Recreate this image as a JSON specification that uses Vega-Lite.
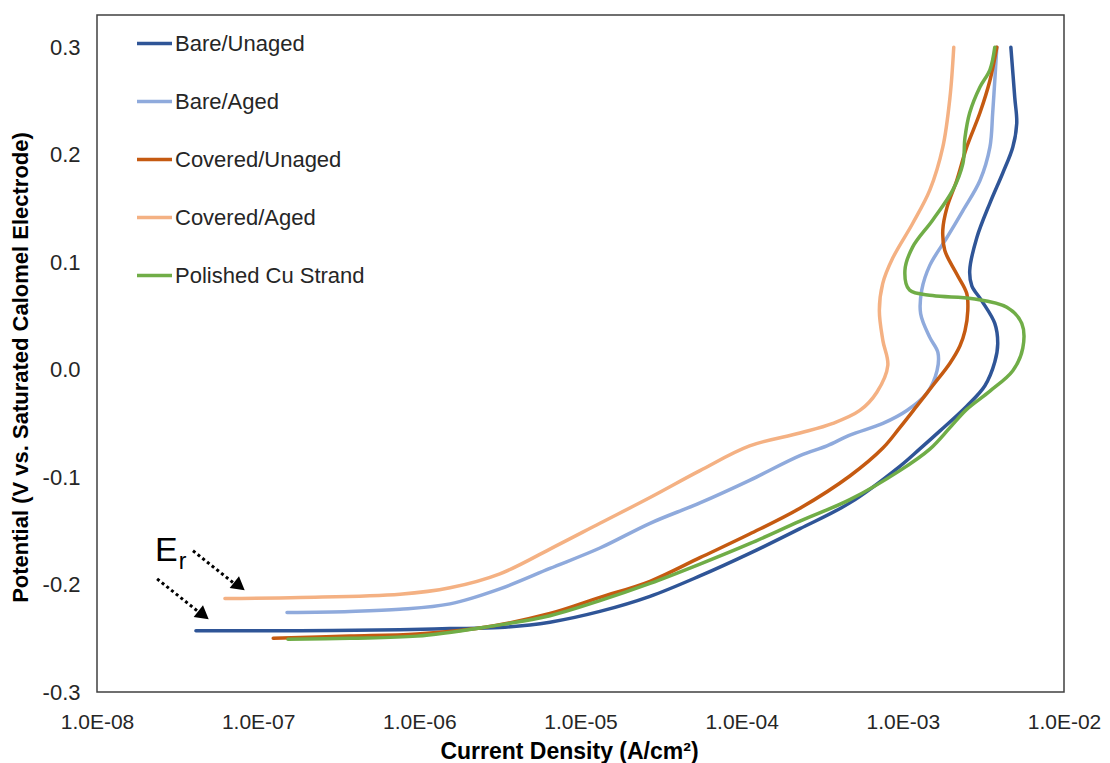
{
  "$schema": "https://vega.github.io/schema/vega-lite/v6.json",
  "width": 967,
  "height": 677,
  "autosize": {"type": "none"},
  "padding": {"left": 97, "top": 15, "right": 46, "bottom": 71},
  "background": "white",
  "config": {
    "view": {"stroke": "#404040", "strokeWidth": 1.5},
    "font": "Liberation Sans"
  },
  "datasets": {
    "curves": [
      {"series": "Bare/Unaged", "order": 1, "current": 4.11e-8, "potential": -0.243},
      {"series": "Bare/Unaged", "order": 2, "current": 1.82e-7, "potential": -0.243},
      {"series": "Bare/Unaged", "order": 3, "current": 7.59e-7, "potential": -0.242},
      {"series": "Bare/Unaged", "order": 4, "current": 1.55e-6, "potential": -0.241},
      {"series": "Bare/Unaged", "order": 5, "current": 3.16e-6, "potential": -0.240},
      {"series": "Bare/Unaged", "order": 6, "current": 6.46e-6, "potential": -0.235},
      {"series": "Bare/Unaged", "order": 7, "current": 1.32e-5, "potential": -0.225},
      {"series": "Bare/Unaged", "order": 8, "current": 2.70e-5, "potential": -0.211},
      {"series": "Bare/Unaged", "order": 9, "current": 5.51e-5, "potential": -0.192},
      {"series": "Bare/Unaged", "order": 10, "current": 1.12e-4, "potential": -0.171},
      {"series": "Bare/Unaged", "order": 11, "current": 2.30e-4, "potential": -0.148},
      {"series": "Bare/Unaged", "order": 12, "current": 4.69e-4, "potential": -0.124},
      {"series": "Bare/Unaged", "order": 14, "current": 9.58e-4, "potential": -0.090},
      {"series": "Bare/Unaged", "order": 15, "current": 1.27e-3, "potential": -0.074},
      {"series": "Bare/Unaged", "order": 16, "current": 1.70e-3, "potential": -0.057},
      {"series": "Bare/Unaged", "order": 17, "current": 2.49e-3, "potential": -0.034},
      {"series": "Bare/Unaged", "order": 18, "current": 3.23e-3, "potential": -0.015},
      {"series": "Bare/Unaged", "order": 19, "current": 3.72e-3, "potential": 0.007},
      {"series": "Bare/Unaged", "order": 20, "current": 3.88e-3, "potential": 0.024},
      {"series": "Bare/Unaged", "order": 21, "current": 3.72e-3, "potential": 0.043},
      {"series": "Bare/Unaged", "order": 22, "current": 3.09e-3, "potential": 0.064},
      {"series": "Bare/Unaged", "order": 23, "current": 2.68e-3, "potential": 0.078},
      {"series": "Bare/Unaged", "order": 24, "current": 2.60e-3, "potential": 0.092},
      {"series": "Bare/Unaged", "order": 25, "current": 2.88e-3, "potential": 0.123},
      {"series": "Bare/Unaged", "order": 26, "current": 3.47e-3, "potential": 0.155},
      {"series": "Bare/Unaged", "order": 27, "current": 4.17e-3, "potential": 0.183},
      {"series": "Bare/Unaged", "order": 28, "current": 4.81e-3, "potential": 0.207},
      {"series": "Bare/Unaged", "order": 29, "current": 5.09e-3, "potential": 0.229},
      {"series": "Bare/Unaged", "order": 30, "current": 4.95e-3, "potential": 0.253},
      {"series": "Bare/Unaged", "order": 31, "current": 4.68e-3, "potential": 0.300},

      {"series": "Bare/Aged", "order": 1, "current": 1.51e-7, "potential": -0.226},
      {"series": "Bare/Aged", "order": 2, "current": 3.71e-7, "potential": -0.225},
      {"series": "Bare/Aged", "order": 3, "current": 7.59e-7, "potential": -0.223},
      {"series": "Bare/Aged", "order": 4, "current": 1.55e-6, "potential": -0.218},
      {"series": "Bare/Aged", "order": 5, "current": 3.16e-6, "potential": -0.204},
      {"series": "Bare/Aged", "order": 6, "current": 6.46e-6, "potential": -0.185},
      {"series": "Bare/Aged", "order": 7, "current": 1.32e-5, "potential": -0.166},
      {"series": "Bare/Aged", "order": 8, "current": 2.70e-5, "potential": -0.143},
      {"series": "Bare/Aged", "order": 9, "current": 5.51e-5, "potential": -0.124},
      {"series": "Bare/Aged", "order": 10, "current": 1.12e-4, "potential": -0.103},
      {"series": "Bare/Aged", "order": 11, "current": 2.30e-4, "potential": -0.080},
      {"series": "Bare/Aged", "order": 12, "current": 3.38e-4, "potential": -0.071},
      {"series": "Bare/Aged", "order": 13, "current": 4.69e-4, "potential": -0.061},
      {"series": "Bare/Aged", "order": 14, "current": 7.52e-4, "potential": -0.050},
      {"series": "Bare/Aged", "order": 15, "current": 1.06e-3, "potential": -0.038},
      {"series": "Bare/Aged", "order": 16, "current": 1.41e-3, "potential": -0.022},
      {"series": "Bare/Aged", "order": 17, "current": 1.63e-3, "potential": -0.001},
      {"series": "Bare/Aged", "order": 18, "current": 1.65e-3, "potential": 0.016},
      {"series": "Bare/Aged", "order": 19, "current": 1.47e-3, "potential": 0.030},
      {"series": "Bare/Aged", "order": 20, "current": 1.29e-3, "potential": 0.052},
      {"series": "Bare/Aged", "order": 21, "current": 1.31e-3, "potential": 0.074},
      {"series": "Bare/Aged", "order": 22, "current": 1.47e-3, "potential": 0.097},
      {"series": "Bare/Aged", "order": 23, "current": 1.88e-3, "potential": 0.123},
      {"series": "Bare/Aged", "order": 24, "current": 2.36e-3, "potential": 0.148},
      {"series": "Bare/Aged", "order": 25, "current": 3.01e-3, "potential": 0.176},
      {"series": "Bare/Aged", "order": 26, "current": 3.47e-3, "potential": 0.207},
      {"series": "Bare/Aged", "order": 27, "current": 3.61e-3, "potential": 0.239},
      {"series": "Bare/Aged", "order": 28, "current": 3.72e-3, "potential": 0.269},
      {"series": "Bare/Aged", "order": 29, "current": 3.83e-3, "potential": 0.300},

      {"series": "Covered/Unaged", "order": 1, "current": 1.24e-7, "potential": -0.250},
      {"series": "Covered/Unaged", "order": 2, "current": 3.71e-7, "potential": -0.248},
      {"series": "Covered/Unaged", "order": 3, "current": 9.66e-7, "potential": -0.246},
      {"series": "Covered/Unaged", "order": 4, "current": 2.48e-6, "potential": -0.240},
      {"series": "Covered/Unaged", "order": 5, "current": 6.46e-6, "potential": -0.227},
      {"series": "Covered/Unaged", "order": 6, "current": 1.32e-5, "potential": -0.212},
      {"series": "Covered/Unaged", "order": 7, "current": 2.70e-5, "potential": -0.197},
      {"series": "Covered/Unaged", "order": 8, "current": 5.51e-5, "potential": -0.175},
      {"series": "Covered/Unaged", "order": 9, "current": 1.12e-4, "potential": -0.153},
      {"series": "Covered/Unaged", "order": 10, "current": 2.30e-4, "potential": -0.129},
      {"series": "Covered/Unaged", "order": 11, "current": 4.69e-4, "potential": -0.099},
      {"series": "Covered/Unaged", "order": 12, "current": 7.52e-4, "potential": -0.073},
      {"series": "Covered/Unaged", "order": 13, "current": 9.58e-4, "potential": -0.054},
      {"series": "Covered/Unaged", "order": 14, "current": 1.22e-3, "potential": -0.034},
      {"series": "Covered/Unaged", "order": 15, "current": 1.53e-3, "potential": -0.015},
      {"series": "Covered/Unaged", "order": 16, "current": 1.96e-3, "potential": 0.006},
      {"series": "Covered/Unaged", "order": 17, "current": 2.26e-3, "potential": 0.022},
      {"series": "Covered/Unaged", "order": 18, "current": 2.43e-3, "potential": 0.036},
      {"series": "Covered/Unaged", "order": 19, "current": 2.53e-3, "potential": 0.055},
      {"series": "Covered/Unaged", "order": 20, "current": 2.49e-3, "potential": 0.071},
      {"series": "Covered/Unaged", "order": 21, "current": 2.16e-3, "potential": 0.089},
      {"series": "Covered/Unaged", "order": 22, "current": 1.82e-3, "potential": 0.111},
      {"series": "Covered/Unaged", "order": 23, "current": 1.77e-3, "potential": 0.130},
      {"series": "Covered/Unaged", "order": 24, "current": 1.88e-3, "potential": 0.151},
      {"series": "Covered/Unaged", "order": 25, "current": 2.16e-3, "potential": 0.176},
      {"series": "Covered/Unaged", "order": 26, "current": 2.49e-3, "potential": 0.207},
      {"series": "Covered/Unaged", "order": 27, "current": 3.01e-3, "potential": 0.239},
      {"series": "Covered/Unaged", "order": 28, "current": 3.47e-3, "potential": 0.269},
      {"series": "Covered/Unaged", "order": 29, "current": 3.83e-3, "potential": 0.300},

      {"series": "Covered/Aged", "order": 1, "current": 6.22e-8, "potential": -0.213},
      {"series": "Covered/Aged", "order": 2, "current": 1.82e-7, "potential": -0.212},
      {"series": "Covered/Aged", "order": 3, "current": 7.59e-7, "potential": -0.209},
      {"series": "Covered/Aged", "order": 4, "current": 1.55e-6, "potential": -0.203},
      {"series": "Covered/Aged", "order": 5, "current": 3.16e-6, "potential": -0.190},
      {"series": "Covered/Aged", "order": 6, "current": 6.46e-6, "potential": -0.167},
      {"series": "Covered/Aged", "order": 7, "current": 1.32e-5, "potential": -0.143},
      {"series": "Covered/Aged", "order": 8, "current": 2.70e-5, "potential": -0.119},
      {"series": "Covered/Aged", "order": 9, "current": 5.51e-5, "potential": -0.094},
      {"series": "Covered/Aged", "order": 10, "current": 1.12e-4, "potential": -0.071},
      {"series": "Covered/Aged", "order": 11, "current": 2.30e-4, "potential": -0.059},
      {"series": "Covered/Aged", "order": 12, "current": 3.68e-4, "potential": -0.050},
      {"series": "Covered/Aged", "order": 13, "current": 5.41e-4, "potential": -0.038},
      {"series": "Covered/Aged", "order": 14, "current": 6.90e-4, "potential": -0.021},
      {"series": "Covered/Aged", "order": 15, "current": 8.07e-4, "potential": 0.004},
      {"series": "Covered/Aged", "order": 16, "current": 7.52e-4, "potential": 0.027},
      {"series": "Covered/Aged", "order": 17, "current": 7.15e-4, "potential": 0.055},
      {"series": "Covered/Aged", "order": 18, "current": 7.50e-4, "potential": 0.080},
      {"series": "Covered/Aged", "order": 19, "current": 8.67e-4, "potential": 0.104},
      {"series": "Covered/Aged", "order": 20, "current": 1.15e-3, "potential": 0.136},
      {"series": "Covered/Aged", "order": 21, "current": 1.47e-3, "potential": 0.167},
      {"series": "Covered/Aged", "order": 22, "current": 1.77e-3, "potential": 0.207},
      {"series": "Covered/Aged", "order": 23, "current": 1.96e-3, "potential": 0.253},
      {"series": "Covered/Aged", "order": 24, "current": 2.07e-3, "potential": 0.300},

      {"series": "Polished Cu Strand", "order": 1, "current": 1.53e-7, "potential": -0.251},
      {"series": "Polished Cu Strand", "order": 2, "current": 3.71e-7, "potential": -0.250},
      {"series": "Polished Cu Strand", "order": 3, "current": 9.66e-7, "potential": -0.248},
      {"series": "Polished Cu Strand", "order": 4, "current": 2.48e-6, "potential": -0.240},
      {"series": "Polished Cu Strand", "order": 5, "current": 6.46e-6, "potential": -0.229},
      {"series": "Polished Cu Strand", "order": 6, "current": 1.32e-5, "potential": -0.215},
      {"series": "Polished Cu Strand", "order": 7, "current": 2.70e-5, "potential": -0.199},
      {"series": "Polished Cu Strand", "order": 8, "current": 5.51e-5, "potential": -0.181},
      {"series": "Polished Cu Strand", "order": 9, "current": 1.12e-4, "potential": -0.162},
      {"series": "Polished Cu Strand", "order": 10, "current": 2.30e-4, "potential": -0.141},
      {"series": "Polished Cu Strand", "order": 11, "current": 4.69e-4, "potential": -0.121},
      {"series": "Polished Cu Strand", "order": 12, "current": 9.58e-4, "potential": -0.094},
      {"series": "Polished Cu Strand", "order": 13, "current": 1.47e-3, "potential": -0.074},
      {"series": "Polished Cu Strand", "order": 14, "current": 1.96e-3, "potential": -0.054},
      {"series": "Polished Cu Strand", "order": 15, "current": 2.49e-3, "potential": -0.037},
      {"series": "Polished Cu Strand", "order": 16, "current": 3.47e-3, "potential": -0.020},
      {"series": "Polished Cu Strand", "order": 17, "current": 4.81e-3, "potential": -0.001},
      {"series": "Polished Cu Strand", "order": 18, "current": 5.55e-3, "potential": 0.020},
      {"series": "Polished Cu Strand", "order": 19, "current": 5.47e-3, "potential": 0.043},
      {"series": "Polished Cu Strand", "order": 20, "current": 4.42e-3, "potential": 0.058},
      {"series": "Polished Cu Strand", "order": 21, "current": 2.72e-3, "potential": 0.066},
      {"series": "Polished Cu Strand", "order": 22, "current": 1.53e-3, "potential": 0.069},
      {"series": "Polished Cu Strand", "order": 23, "current": 1.10e-3, "potential": 0.074},
      {"series": "Polished Cu Strand", "order": 24, "current": 1.03e-3, "potential": 0.092},
      {"series": "Polished Cu Strand", "order": 25, "current": 1.15e-3, "potential": 0.114},
      {"series": "Polished Cu Strand", "order": 26, "current": 1.53e-3, "potential": 0.139},
      {"series": "Polished Cu Strand", "order": 27, "current": 2.04e-3, "potential": 0.167},
      {"series": "Polished Cu Strand", "order": 28, "current": 2.36e-3, "potential": 0.192},
      {"series": "Polished Cu Strand", "order": 29, "current": 2.43e-3, "potential": 0.216},
      {"series": "Polished Cu Strand", "order": 30, "current": 2.60e-3, "potential": 0.239},
      {"series": "Polished Cu Strand", "order": 31, "current": 3.01e-3, "potential": 0.263},
      {"series": "Polished Cu Strand", "order": 32, "current": 3.47e-3, "potential": 0.279},
      {"series": "Polished Cu Strand", "order": 33, "current": 3.72e-3, "potential": 0.300}
    ],
    "arrows": [
      {"arrow": "upper", "order": 1, "current": 3.94e-8, "potential": -0.1686},
      {"arrow": "upper", "order": 2, "current": 7.28e-8, "potential": -0.2003},
      {"arrow": "lower", "order": 1, "current": 2.36e-8, "potential": -0.1947},
      {"arrow": "lower", "order": 2, "current": 4.42e-8, "potential": -0.2273}
    ],
    "heads": [
      {"arrow": "upper", "current": 7.66e-8, "potential": -0.2015},
      {"arrow": "lower", "current": 4.58e-8, "potential": -0.2285}
    ],
    "notes": [
      {"text": "E", "current": 2.29e-8, "potential": -0.178},
      {"text": "r", "current": 3.22e-8, "potential": -0.1854}
    ]
  },
  "encoding": {
    "x": {
      "field": "current",
      "type": "quantitative",
      "scale": {"type": "log", "domain": [1e-8, 1e-2]},
      "axis": {
        "title": "Current Density (A/cm²)",
        "values": [1e-8, 1e-7, 1e-6, 1e-5, 1e-4, 1e-3, 1e-2],
        "labelExpr": "'1.0E-0' + format(-log(datum.value)/LN10, '.0f')",
        "grid": false,
        "domain": false,
        "ticks": false,
        "tickSize": 0,
        "labelPadding": 19,
        "labelFontSize": 21,
        "labelFont": "Liberation Sans",
        "labelColor": "#262626",
        "labelFlush": false,
        "labelOverlap": false,
        "titleFont": "Liberation Sans",
        "titleFontSize": 23,
        "titleFontWeight": "bold",
        "titleColor": "#000000",
        "titlePadding": 8,
        "titleX": 472
      }
    },
    "y": {
      "field": "potential",
      "type": "quantitative",
      "scale": {"domain": [-0.3, 0.33], "nice": false, "zero": false},
      "axis": {
        "title": "Potential (V vs. Saturated Calomel Electrode)",
        "values": [-0.3, -0.2, -0.1, 0, 0.1, 0.2, 0.3],
        "labelExpr": "replace(format(datum.value, '.1f'), '\u2212', '-')",
        "grid": false,
        "domain": false,
        "ticks": false,
        "tickSize": 0,
        "labelPadding": 17,
        "labelFontSize": 22,
        "labelFont": "Liberation Sans",
        "labelColor": "#262626",
        "labelFlush": false,
        "labelOverlap": false,
        "titleFont": "Liberation Sans",
        "titleFontSize": 22,
        "titleFontWeight": "bold",
        "titleColor": "#000000",
        "titlePadding": 10,
        "titleY": 352
      }
    }
  },
  "layer": [
    {
      "data": {"name": "curves"},
      "mark": {"type": "line", "strokeWidth": 3.5, "interpolate": "catmull-rom", "strokeCap": "round"},
      "encoding": {
        "color": {
          "field": "series",
          "type": "nominal",
          "scale": {
            "domain": ["Bare/Unaged", "Bare/Aged", "Covered/Unaged", "Covered/Aged", "Polished Cu Strand"],
            "range": ["#2F5597", "#8FAADC", "#C55A11", "#F4B183", "#70AD47"]
          },
          "legend": {
            "title": null,
            "orient": "none",
            "legendX": 38,
            "legendY": 9,
            "padding": 0,
            "symbolType": "stroke",
            "symbolSize": 1225,
            "symbolStrokeWidth": 3.5,
            "labelFontSize": 22,
            "labelFont": "Liberation Sans",
            "labelColor": "#262626",
            "labelLimit": 400,
            "labelOffset": 1,
            "rowPadding": 27
          }
        },
        "order": {"field": "order", "type": "quantitative"}
      }
    },
    {
      "data": {"name": "arrows"},
      "mark": {"type": "line", "color": "#000000", "strokeWidth": 3, "strokeDash": [3, 3]},
      "encoding": {
        "detail": {"field": "arrow", "type": "nominal"},
        "order": {"field": "order", "type": "quantitative"}
      }
    },
    {
      "data": {"name": "heads"},
      "mark": {"type": "point", "shape": "triangle-up", "filled": true, "color": "#000000", "size": 230, "angle": 128, "opacity": 1}
    },
    {
      "data": {"name": "notes"},
      "transform": [{"filter": "datum.text === 'E'"}],
      "mark": {"type": "text", "fontSize": 34, "font": "Liberation Sans", "align": "left", "baseline": "alphabetic", "color": "#000000"},
      "encoding": {"text": {"field": "text"}}
    },
    {
      "data": {"name": "notes"},
      "transform": [{"filter": "datum.text === 'r'"}],
      "mark": {"type": "text", "fontSize": 23, "font": "Liberation Sans", "align": "left", "baseline": "alphabetic", "color": "#000000"},
      "encoding": {"text": {"field": "text"}}
    }
  ]
}
